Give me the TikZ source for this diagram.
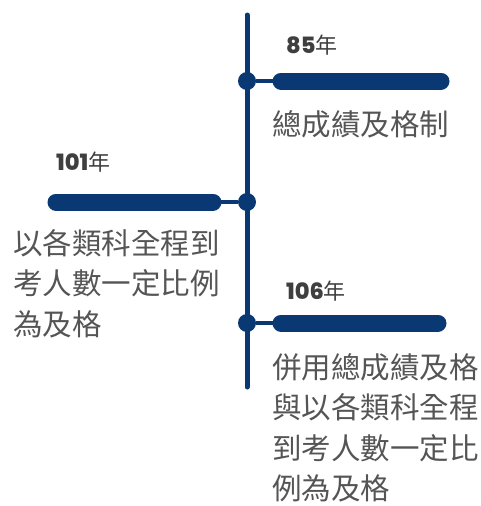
\documentclass[tikz,border=0pt]{standalone}
\usepackage{fontspec}
\newfontfamily\cjk{Noto Sans CJK TC}
\newfontfamily\yearfont{Poppins ExtraBold}
\definecolor{navy}{HTML}{0A3873}
\definecolor{txtgray}{HTML}{555555}
\definecolor{yrgray}{HTML}{3F3F3F}
\begin{document}
\begin{tikzpicture}[x=1pt,y=-1pt,
  bar/.style={line width=17pt,line cap=round,draw=navy},
  link/.style={line width=4pt,draw=navy},
  dot/.style={circle,fill=navy,minimum size=18pt,inner sep=0pt},
  yearlbl/.style={anchor=west,inner sep=0pt,text=yrgray,font=\yearfont\fontsize{22.5}{26}\selectfont},
  desc/.style={anchor=north west,inner sep=0pt,align=left,text=txtgray,font=\cjk\fontsize{29.5}{40.5}\selectfont}]
\useasboundingbox (0,0) rectangle (481,506);
\coordinate (top) at (247,15);
\coordinate (bot) at (247,387);
\draw[line width=5pt,navy,line cap=round] (top) -- (bot);
% 85
\node[dot] (d1) at (247,81) {};
\coordinate (b1s) at (281,81);
\coordinate (b1e) at (441,81);
\draw[link] (d1) -- (b1s);
\draw[bar] (b1s) -- (b1e);
\node[yearlbl] (y1) at (286,45) {85{\cjk\fontsize{22}{26}\selectfont 年}};
\node[desc] (t1) at (272,110) {總成績及格制};
% 101
\node[dot] (d2) at (247,202) {};
\coordinate (b2s) at (213,202);
\coordinate (b2e) at (56,202);
\draw[link] (d2) -- (b2s);
\draw[bar] (b2s) -- (b2e);
\node[yearlbl] (y2) at (56,162) {101{\cjk\fontsize{22}{26}\selectfont 年}};
\node[desc] (t2) at (13,229) {以各類科全程到\\考人數一定比例\\為及格};
% 106
\node[dot] (d3) at (247,323) {};
\coordinate (b3s) at (281,323);
\coordinate (b3e) at (438,323);
\draw[link] (d3) -- (b3s);
\draw[bar] (b3s) -- (b3e);
\node[yearlbl] (y3) at (286,291) {106{\cjk\fontsize{22}{26}\selectfont 年}};
\node[desc] (t3) at (272,353) {併用總成績及格\\與以各類科全程\\到考人數一定比\\例為及格};
\end{tikzpicture}
\end{document}
